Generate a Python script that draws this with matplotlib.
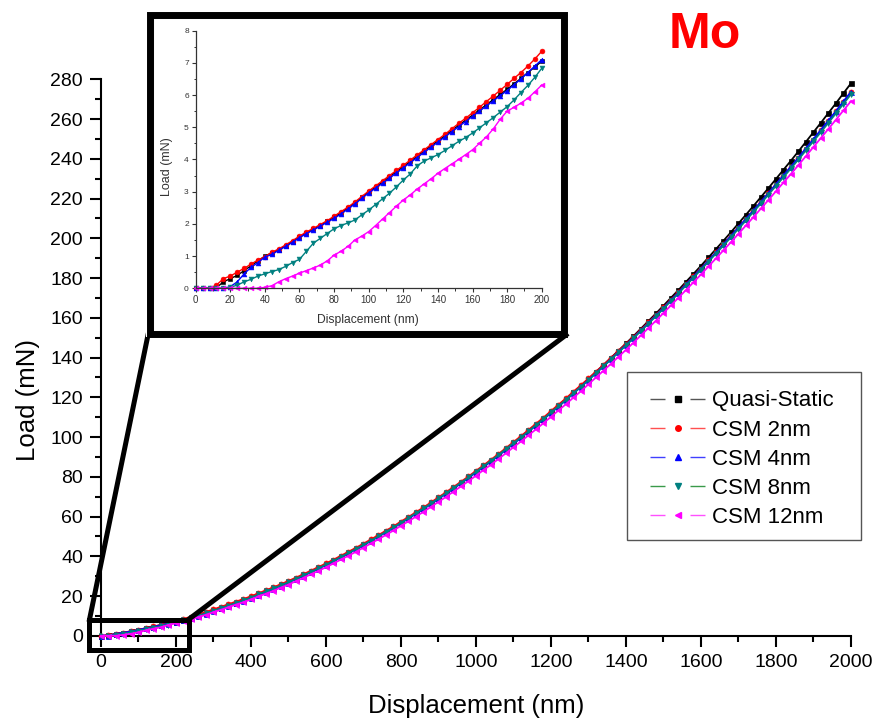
import numpy as np
import matplotlib
matplotlib.use("Agg")
import matplotlib.pyplot as plt
from matplotlib.lines import Line2D
from matplotlib.patches import Rectangle
from matplotlib.ticker import MultipleLocator

plt.rcParams['font.family'] = ['Liberation Sans', 'DejaVu Sans']

# ---------------- data ----------------
series_names = ["Quasi-Static", "CSM 2nm", "CSM 4nm", "CSM 8nm", "CSM 12nm"]

# main plot: displacement every 20 nm, 0..2000
disp_main = np.arange(0, 2001, 20)
load_qs = [0, 0.3, 1.0, 1.6, 2.2, 3.0, 3.8, 4.6, 5.4, 6.2, 7.05,
           8.0, 9.1, 10.3, 11.5, 12.8, 14.1, 15.4, 16.7, 18.0, 19.4,
           20.9, 22.4, 23.9, 25.5, 27.1, 28.8, 30.5, 32.3, 34.1, 35.9,
           37.8, 39.8, 41.8, 43.8, 45.9, 48.0, 50.2, 52.4, 54.6, 57.0,
           59.3, 61.7, 64.1, 66.6, 69.2, 71.7, 74.4, 77.0, 79.7, 82.5,
           85.3, 88.1, 91.0, 94.0, 97.0, 100.0, 103.1, 106.2, 109.3, 112.6,
           115.8, 119.1, 122.5, 125.8, 129.3, 132.8, 136.3, 139.9, 143.5, 147.1,
           150.8, 154.6, 158.4, 162.2, 166.1, 170.1, 174.0, 178.1, 182.1, 186.2,
           190.4, 194.6, 198.8, 203.1, 207.5, 211.9, 216.3, 220.8, 225.3, 229.9,
           234.5, 239.1, 243.8, 248.6, 253.4, 258.2, 263.1, 268.0, 273.0, 278.0]
load_2nm = [0, 0.35, 1.0, 1.65, 2.3, 3.05, 3.85, 4.7, 5.5, 6.4, 7.35,
            8.5, 9.6, 10.8, 12.0, 13.3, 14.6, 15.9, 17.2, 18.5, 19.9,
            21.4, 22.9, 24.4, 26.0, 27.6, 29.3, 31.0, 32.8, 34.6, 36.4,
            38.3, 40.3, 42.3, 44.3, 46.4, 48.5, 50.7, 52.9, 55.1, 57.5,
            59.8, 62.2, 64.6, 67.1, 69.7, 72.2, 74.9, 77.5, 80.2, 83.0,
            85.8, 88.6, 91.5, 94.5, 97.5, 100.5, 103.6, 106.7, 109.8, 113.1,
            116.3, 119.5, 122.9, 126.1, 129.5, 132.9, 136.3, 139.8, 143.3, 146.8,
            150.4, 154.1, 157.8, 161.5, 165.3, 169.2, 173.0, 176.9, 180.8, 184.8,
            188.9, 193.0, 197.0, 201.2, 205.4, 209.7, 213.9, 218.3, 222.6, 227.0,
            231.5, 235.9, 240.4, 245.1, 249.7, 254.3, 259.0, 263.8, 268.6, 273.5]
load_4nm = [0, 0.05, 0.97, 1.57, 2.17, 2.96, 3.74, 4.54, 5.34, 6.14, 7.1,
            7.9, 8.9, 10.0, 11.2, 12.5, 13.8, 15.1, 16.4, 17.7, 19.1,
            20.6, 22.1, 23.6, 25.2, 26.8, 28.5, 30.2, 32.0, 33.8, 35.6,
            37.5, 39.5, 41.5, 43.5, 45.6, 47.7, 49.9, 52.1, 54.3, 56.7,
            59.0, 61.4, 63.8, 66.3, 68.9, 71.4, 74.1, 76.7, 79.4, 82.2,
            84.9, 87.7, 90.6, 93.6, 96.6, 99.6, 102.7, 105.8, 108.9, 112.2,
            115.3, 118.6, 122.0, 125.3, 128.8, 132.2, 135.7, 139.2, 142.8, 146.3,
            150.0, 153.7, 157.4, 161.2, 165.0, 168.9, 172.7, 176.8, 180.7, 184.7,
            188.8, 192.9, 197.0, 201.2, 205.5, 209.8, 214.0, 218.4, 222.8, 227.2,
            231.7, 236.1, 240.6, 245.3, 249.9, 254.6, 259.3, 264.0, 268.9, 273.7]
load_8nm = [0, 0.03, 0.45, 0.9, 1.85, 2.43, 3.36, 4.15, 4.82, 5.64, 6.83,
            7.8, 8.9, 10.1, 11.3, 12.6, 13.9, 15.2, 16.5, 17.8, 19.2,
            20.8, 22.3, 23.8, 25.4, 27.0, 28.7, 30.4, 32.2, 34.0, 35.8,
            37.7, 39.7, 41.7, 43.7, 45.8, 47.9, 50.1, 52.3, 54.5, 56.9,
            59.3, 61.7, 64.1, 66.6, 69.2, 71.7, 74.4, 77.0, 79.7, 82.5,
            85.3, 88.1, 91.0, 94.0, 97.0, 99.8, 102.9, 106.0, 109.1, 112.4,
            115.5, 118.8, 122.1, 125.3, 128.7, 132.1, 135.6, 139.1, 142.6, 146.1,
            149.7, 153.4, 157.1, 160.8, 164.6, 168.5, 172.3, 176.3, 180.2, 184.2,
            188.3, 192.3, 196.4, 200.5, 204.8, 209.0, 213.3, 217.6, 222.0, 226.4,
            230.8, 235.2, 239.7, 244.3, 248.9, 253.5, 258.2, 262.9, 267.7, 272.5]
load_12nm = [0, 0, 0.03, 0.47, 1.03, 1.76, 2.74, 3.57, 4.3, 5.5, 6.31,
             7.2, 8.3, 9.4, 10.6, 11.9, 13.1, 14.4, 15.7, 16.9, 18.3,
             19.8, 21.2, 22.7, 24.3, 25.8, 27.5, 29.2, 31.0, 32.7, 34.5,
             36.4, 38.4, 40.3, 42.3, 44.4, 46.5, 48.6, 50.8, 53.0, 55.4,
             57.6, 60.0, 62.4, 64.9, 67.4, 69.9, 72.6, 75.2, 77.8, 80.6,
             83.4, 86.1, 89.0, 91.9, 94.9, 97.8, 100.9, 103.9, 107.0, 110.2,
             113.4, 116.6, 119.9, 123.1, 126.6, 130.0, 133.4, 136.9, 140.4, 143.9,
             147.5, 151.2, 154.9, 158.6, 162.4, 166.3, 170.1, 174.0, 177.9, 181.8,
             185.9, 189.9, 194.0, 198.1, 202.3, 206.5, 210.7, 215.0, 219.3, 223.7,
             228.1, 232.4, 236.9, 241.4, 246.0, 250.5, 255.1, 259.7, 264.4, 269.0]

# inset: displacement every 4 nm, 0..200
disp_in = np.arange(0, 201, 4)
in_qs = [0, 0, 0, 0.02, 0.2, 0.3, 0.4, 0.55, 0.7, 0.85, 1.0, 1.1, 1.2, 1.32, 1.45,
         1.6, 1.72, 1.83, 1.95, 2.08, 2.2, 2.35, 2.5, 2.65, 2.82, 3.0, 3.15, 3.3,
         3.46, 3.62, 3.78, 3.94, 4.1, 4.26, 4.42, 4.58, 4.74, 4.9, 5.06, 5.22, 5.38,
         5.54, 5.7, 5.86, 6.02, 6.18, 6.35, 6.52, 6.7, 6.87, 7.05]
in_2nm = [0, 0, 0, 0.1, 0.3, 0.38, 0.5, 0.62, 0.75, 0.88, 0.98, 1.12, 1.22, 1.35, 1.48,
          1.62, 1.75, 1.86, 1.98, 2.1, 2.24, 2.38, 2.52, 2.68, 2.85, 3.02, 3.18, 3.34,
          3.5, 3.66, 3.82, 3.98, 4.14, 4.3, 4.46, 4.62, 4.78, 4.95, 5.12, 5.28, 5.45,
          5.62, 5.8, 5.97, 6.15, 6.33, 6.52, 6.7, 6.9, 7.12, 7.36]
in_4nm = [0, 0, 0, 0, 0, 0.05, 0.2, 0.45, 0.65, 0.8, 0.97, 1.05, 1.18, 1.3, 1.43,
          1.57, 1.7, 1.81, 1.93, 2.05, 2.17, 2.31, 2.46, 2.62, 2.79, 2.96, 3.11, 3.26,
          3.42, 3.58, 3.74, 3.9, 4.06, 4.22, 4.38, 4.54, 4.7, 4.86, 5.02, 5.18, 5.34,
          5.5, 5.66, 5.82, 5.98, 6.14, 6.32, 6.5, 6.7, 6.9, 7.1]
in_8nm = [0, 0, 0, 0, 0, 0.03, 0.1, 0.2, 0.28, 0.38, 0.45, 0.52, 0.58, 0.68, 0.8,
          0.9, 1.15, 1.4, 1.55, 1.7, 1.85, 1.95, 2.03, 2.12, 2.28, 2.43, 2.6, 2.78,
          2.95, 3.15, 3.36, 3.55, 3.8, 3.95, 4.05, 4.15, 4.28, 4.42, 4.56, 4.68, 4.82,
          4.98, 5.14, 5.3, 5.47, 5.64, 5.85, 6.08, 6.3, 6.55, 6.83]
in_12nm = [0, 0, 0, 0, 0, 0, 0, 0, 0, 0, 0.03, 0.08, 0.2, 0.3, 0.38,
           0.47, 0.55, 0.63, 0.72, 0.85, 1.03, 1.15, 1.3, 1.5, 1.62, 1.76, 1.95, 2.15,
           2.35, 2.55, 2.74, 2.9, 3.08, 3.24, 3.4, 3.57, 3.72, 3.86, 4.0, 4.15, 4.3,
           4.5, 4.7, 4.95, 5.25, 5.5, 5.62, 5.75, 5.9, 6.1, 6.31]

main_loads = [load_qs, load_2nm, load_4nm, load_8nm, load_12nm]
inset_loads = [in_qs, in_2nm, in_4nm, in_8nm, in_12nm]

marker_styles = ['s', 'o', '^', 'v', '<']
marker_colors = ['#000000', '#ff0000', '#0000ff', '#008080', '#ff00ff']
line_colors = ['#000000', '#ff0000', '#0000ff', '#008080', '#ff00ff']
legend_line_colors = ['#555555', '#ff5050', '#4040ff', '#3a9a4a', '#ff50ff']

W, H = 879, 724
def fx(x):
    return x / W
def fy(y):
    return 1 - y / H

fig = plt.figure(figsize=(W / 100, H / 100), dpi=100)

# ---------------- main axes ----------------
ax = fig.add_axes([fx(101), fy(635.8), 750 / W, (635.8 - 79.3) / H])
for ld, m, mc, lc in zip(main_loads, marker_styles, marker_colors, line_colors):
    ax.plot(disp_main, ld, color=lc, lw=1.3, marker=m, markersize=3.6,
            markerfacecolor=mc, markeredgecolor=mc, markeredgewidth=0.5,
            clip_on=False, zorder=3)
ax.set_xlim(0, 2000)
ax.set_ylim(0, 280)
for s in ['top', 'right']:
    ax.spines[s].set_visible(False)
for s in ['left', 'bottom']:
    ax.spines[s].set_linewidth(1.5)
ax.xaxis.set_major_locator(MultipleLocator(200))
ax.xaxis.set_minor_locator(MultipleLocator(100))
ax.yaxis.set_major_locator(MultipleLocator(20))
ax.yaxis.set_minor_locator(MultipleLocator(10))
ax.tick_params(which='major', direction='out', length=8, width=1.5,
               labelsize=14, pad=5)
ax.tick_params(which='minor', direction='out', length=4.5, width=1.5)
fig.text(fx(476), fy(706), "Displacement (nm)", fontsize=18.5,
         ha='center', va='center')
fig.text(fx(28), fy(400), "Load (mN)", fontsize=18.5, rotation=90,
         ha='center', va='center')

fig.text(fx(705), fy(35), "Mo", color='#ff0000', fontsize=36,
         fontweight='bold', ha='center', va='center')

# zoom box on main axes
fig.add_artist(Rectangle((fx(89.5), fy(649.5)), (188.5 - 89.5) / W,
                         (649.5 - 619.5) / H, transform=fig.transFigure,
                         fill=False, edgecolor='black', lw=3.6, zorder=5))
# connector lines
fig.add_artist(Line2D([fx(89.5), fx(148)], [fy(619.5), fy(335)],
                      transform=fig.transFigure, color='black', lw=3.6,
                      zorder=5))
fig.add_artist(Line2D([fx(188.5), fx(566)], [fy(619.5), fy(335)],
                      transform=fig.transFigure, color='black', lw=3.6,
                      zorder=5))

# ---------------- inset ----------------
fig.add_artist(Rectangle((fx(146), fy(337)), (568 - 146) / W, (337 - 11) / H,
                         transform=fig.transFigure, facecolor='white',
                         edgecolor='none', zorder=6))
fig.add_artist(Rectangle((fx(153), fy(331)), (561 - 153) / W, (331 - 18) / H,
                         transform=fig.transFigure, fill=False,
                         edgecolor='#b0b0b0', lw=0.8, zorder=6.5))
fig.add_artist(Rectangle((fx(149.5), fy(333.5)), (564.5 - 149.5) / W,
                         (333.5 - 14.5) / H, transform=fig.transFigure,
                         fill=False, edgecolor='black', lw=5.0, zorder=8))

axi = fig.add_axes([fx(195.7), fy(288.3), 346 / W, (288.3 - 30.7) / H])
axi.set_zorder(7)
axi.patch.set_alpha(0)
for ld, m, mc, lc in zip(inset_loads, marker_styles, marker_colors, line_colors):
    axi.plot(disp_in, ld, color=lc, lw=1.0, marker=m, markersize=3.5,
             markerfacecolor=mc, markeredgecolor=mc, markeredgewidth=0.4,
             clip_on=False)
axi.set_xlim(0, 200)
axi.set_ylim(0, 8)
for s in ['top', 'right']:
    axi.spines[s].set_visible(False)
for s in ['left', 'bottom']:
    axi.spines[s].set_linewidth(0.9)
    axi.spines[s].set_color('#333333')
axi.xaxis.set_major_locator(MultipleLocator(20))
axi.xaxis.set_minor_locator(MultipleLocator(10))
axi.yaxis.set_major_locator(MultipleLocator(1))
axi.yaxis.set_minor_locator(MultipleLocator(0.5))
axi.tick_params(axis='x', which='major', direction='out', length=3, width=0.8,
                labelsize=7, pad=2, colors='#333333')
axi.tick_params(axis='y', which='major', direction='out', length=3, width=0.8,
                labelsize=6, pad=2, colors='#333333')
axi.tick_params(which='minor', direction='out', length=1.8, width=0.7,
                colors='#333333')
fig.text(fx(368), fy(320), "Displacement (nm)", fontsize=8.7, color='#333333',
         ha='center', va='center', zorder=9)
fig.text(fx(167), fy(167), "Load (mN)", fontsize=9, color='#333333',
         rotation=90, ha='center', va='center', zorder=9)

# ---------------- legend ----------------
handles = [Line2D([], [], color=lc, lw=1.0, dashes=(10.8, 18), marker=m,
                  markersize=4, markerfacecolor=mc, markeredgecolor=mc)
           for lc, m, mc in zip(legend_line_colors, marker_styles, marker_colors)]
fig.add_artist(Rectangle((fx(627), fy(540)), (861 - 627) / W, (540 - 372) / H,
                         transform=fig.transFigure, fill=False,
                         edgecolor='#555555', lw=1.0, zorder=4))
fig.legend(handles, series_names, loc='upper left',
           bbox_to_anchor=(fx(637), fy(377)), frameon=False, fontsize=16,
           handlelength=2.48, handletextpad=0.3, labelspacing=0.37,
           borderpad=0.6, borderaxespad=0)

fig.savefig("out.png", dpi=100)
